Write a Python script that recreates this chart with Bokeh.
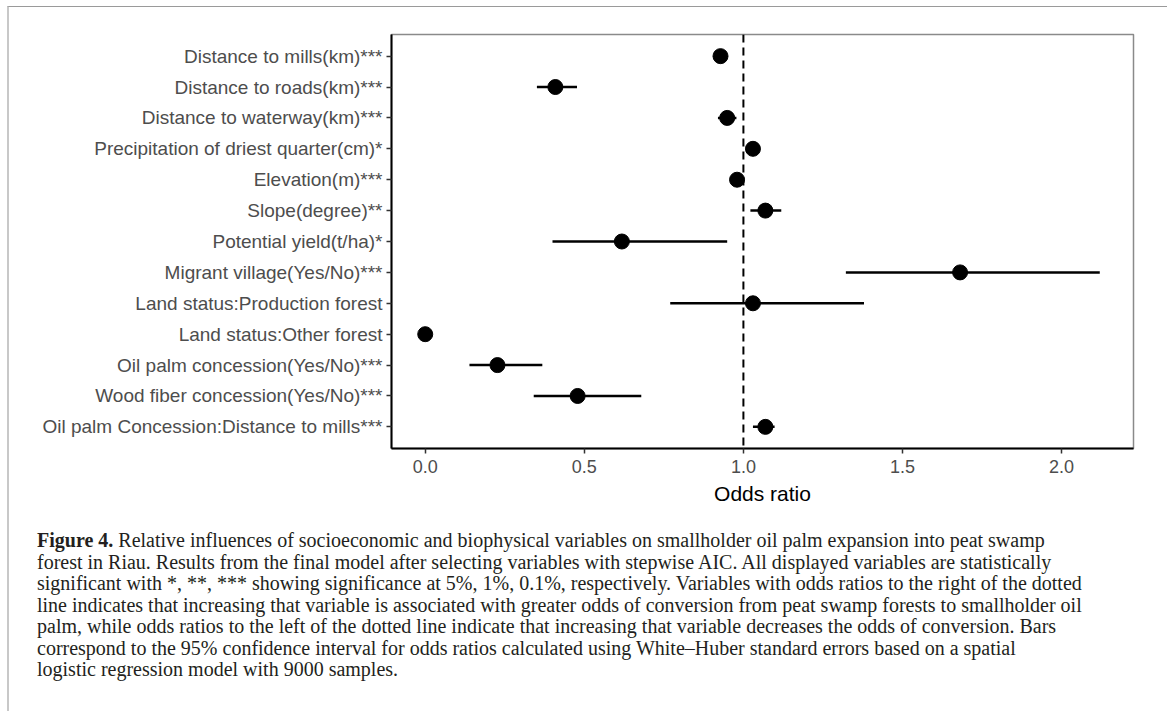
from bokeh.plotting import figure
from bokeh.models import Range1d, FactorRange, FixedTicker, Span, Div, ColumnDataSource
from bokeh.layouts import column
from bokeh.embed import file_html
from bokeh.resources import INLINE

variables = [
    "Distance to mills(km)***",
    "Distance to roads(km)***",
    "Distance to waterway(km)***",
    "Precipitation of driest quarter(cm)*",
    "Elevation(m)***",
    "Slope(degree)**",
    "Potential yield(t/ha)*",
    "Migrant village(Yes/No)***",
    "Land status:Production forest",
    "Land status:Other forest",
    "Oil palm concession(Yes/No)***",
    "Wood fiber concession(Yes/No)***",
    "Oil palm Concession:Distance to mills***",
]
odds_ratio = [0.928, 0.409, 0.949, 1.030, 0.980, 1.069, 0.618, 1.681, 1.030, 0.000, 0.227, 0.479, 1.069]
ci_low =     [0.910, 0.351, 0.920, 1.010, 0.960, 1.022, 0.400, 1.322, 0.770, 0.000, 0.139, 0.341, 1.030]
ci_high =    [0.946, 0.477, 0.978, 1.050, 1.000, 1.119, 0.949, 2.120, 1.379, 0.000, 0.368, 0.679, 1.098]
x_ticks = [0.0, 0.5, 1.0, 1.5, 2.0]
x_tick_labels = ["0.0", "0.5", "1.0", "1.5", "2.0"]
reference_line = 1.0

caption_lines = [
    "<b>Figure 4.</b> Relative influences of socioeconomic and biophysical variables on smallholder oil palm expansion into peat swamp",
    "forest in Riau. Results from the final model after selecting variables with stepwise AIC. All displayed variables are statistically",
    "significant with *, **, *** showing significance at 5%, 1%, 0.1%, respectively. Variables with odds ratios to the right of the dotted",
    "line indicates that increasing that variable is associated with greater odds of conversion from peat swamp forests to smallholder oil",
    "palm, while odds ratios to the left of the dotted line indicate that increasing that variable decreases the odds of conversion. Bars",
    "correspond to the 95% confidence interval for odds ratios calculated using White\u2013Huber standard errors based on a spatial",
    "logistic regression model with 9000 samples.",
]

src = ColumnDataSource(dict(var=variables, odds=odds_ratio, lo=ci_low, hi=ci_high))

p = figure(
    width=1152, height=503,
    x_range=Range1d(-0.106, 2.226),
    y_range=FactorRange(factors=list(reversed(variables)), range_padding=0.2, range_padding_units="absolute"),
    output_backend="svg", toolbar_location=None,
    min_border_left=382, min_border_top=27, min_border_right=28, min_border_bottom=62,
    x_axis_label="Odds ratio",
)
p.background_fill_color = "white"
p.border_fill_color = "white"
p.outline_line_color = "#8a8a8a"
p.outline_line_width = 1.5
p.grid.visible = False

p.add_layout(Span(location=reference_line, dimension="height", line_color="black",
                  line_width=2, line_dash="8 5"))

p.segment(x0="lo", x1="hi", y0="var", y1="var", source=src, line_color="black", line_width=2.5)
p.scatter(x="odds", y="var", source=src, size=15, fill_color="black", line_color="black")

for ax in (p.xaxis[0], p.yaxis[0]):
    ax.axis_line_color = "black"
    ax.axis_line_width = 2
    ax.major_tick_line_color = "#333333"
    ax.major_tick_line_width = 1.5
    ax.major_tick_out = 5
    ax.major_tick_in = 0
    ax.minor_tick_line_color = None
    ax.major_label_text_color = "#4d4d4d"
    ax.major_label_text_font = "Liberation Sans"

p.yaxis[0].major_label_text_font_size = "19px"
p.yaxis[0].major_label_standoff = 4
p.xaxis[0].ticker = FixedTicker(ticks=x_ticks)
p.xaxis[0].major_label_overrides = {t: l for t, l in zip(x_ticks, x_tick_labels)}
p.xaxis[0].major_label_text_font_size = "18px"
p.xaxis[0].major_label_standoff = 6
p.xaxis[0].axis_label_text_font = "Liberation Sans"
p.xaxis[0].axis_label_text_font_size = "21px"
p.xaxis[0].axis_label_text_font_style = "normal"
p.xaxis[0].axis_label_text_color = "black"
p.xaxis[0].axis_label_standoff = 6

caption_html = (
    '<div style="font-family:\'Liberation Serif\',serif;font-size:20px;line-height:21.5px;'
    'color:#231f20;margin-left:23px;margin-top:15px;white-space:nowrap;">'
    + "<br>".join(caption_lines) + "</div>"
)
cap = Div(text=caption_html, width=1152, height=200)

layout = column(p, cap, styles={
    "margin-top": "6px",
    "margin-left": "7px",
    "border-top": "1px solid #9a9a9a",
    "border-left": "2px solid #c8c8c8",
    "border-right": "3px solid #c8c8c8",
})

open("out.html", "w").write(file_html(layout, INLINE))
